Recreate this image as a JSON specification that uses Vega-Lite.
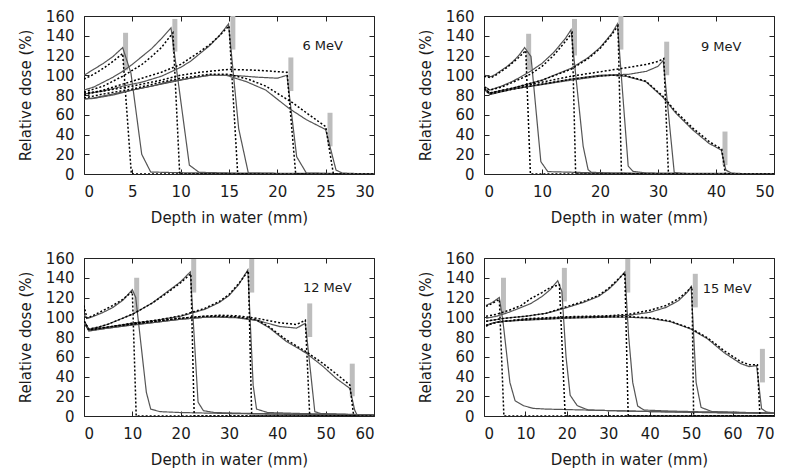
{
"$schema": "https://vega.github.io/schema/vega-lite/v6.json",
"padding": {"left": 17, "top": 8, "right": 5, "bottom": 3},
"config": {
  "font": "DejaVu Sans",
  "view": {"stroke": "#222", "strokeWidth": 1},
  "axis": {"domain": false, "grid": false, "tickSize": -5, "tickColor": "#222", "tickWidth": 1, "labelFontSize": 15, "titleFontSize": 15, "titleFontWeight": "normal", "labelColor": "#1a1a1a", "titleColor": "#1a1a1a", "labelFont": "DejaVu Sans", "titleFont": "DejaVu Sans"},
  "axisX": {"labelPadding": 15, "titlePadding": 11},
  "axisY": {"labelPadding": 15, "titlePadding": 12}
},
"datasets": {
"curves": [
{"p":1,"c":"A","t":"s","x":0,"y":100},{"p":1,"c":"A","t":"s","x":1,"y":106},{"p":1,"c":"A","t":"s","x":2,"y":112},{"p":1,"c":"A","t":"s","x":3,"y":119},{"p":1,"c":"A","t":"s","x":4,"y":128},{"p":1,"c":"A","t":"s","x":4.86,"y":102},{"p":1,"c":"A","t":"s","x":5.97,"y":20},{"p":1,"c":"A","t":"s","x":6.9,"y":2},{"p":1,"c":"A","t":"s","x":9,"y":1.5},{"p":1,"c":"A","t":"s","x":12,"y":1},{"p":1,"c":"A","t":"s","x":16,"y":0.5},{"p":1,"c":"A","t":"s","x":30,"y":0.3},
{"p":1,"c":"A","t":"d","x":0,"y":96},{"p":1,"c":"A","t":"d","x":1,"y":101},{"p":1,"c":"A","t":"d","x":2,"y":107},{"p":1,"c":"A","t":"d","x":3,"y":114},{"p":1,"c":"A","t":"d","x":4,"y":122},{"p":1,"c":"A","t":"d","x":4.9,"y":0},{"p":1,"c":"A","t":"d","x":30,"y":0},
{"p":1,"c":"B","t":"s","x":0,"y":85},{"p":1,"c":"B","t":"s","x":1,"y":88},{"p":1,"c":"B","t":"s","x":2,"y":93},{"p":1,"c":"B","t":"s","x":3,"y":98},{"p":1,"c":"B","t":"s","x":4,"y":104},{"p":1,"c":"B","t":"s","x":5,"y":111},{"p":1,"c":"B","t":"s","x":6,"y":119},{"p":1,"c":"B","t":"s","x":7,"y":127},{"p":1,"c":"B","t":"s","x":8,"y":137},{"p":1,"c":"B","t":"s","x":9,"y":148},{"p":1,"c":"B","t":"s","x":10.9,"y":9},{"p":1,"c":"B","t":"s","x":11.9,"y":1.7},{"p":1,"c":"B","t":"s","x":15,"y":1},{"p":1,"c":"B","t":"s","x":30,"y":0.3},
{"p":1,"c":"B","t":"d","x":0,"y":83},{"p":1,"c":"B","t":"d","x":1,"y":86},{"p":1,"c":"B","t":"d","x":2,"y":89},{"p":1,"c":"B","t":"d","x":3,"y":94},{"p":1,"c":"B","t":"d","x":4,"y":99},{"p":1,"c":"B","t":"d","x":5,"y":105},{"p":1,"c":"B","t":"d","x":6,"y":111},{"p":1,"c":"B","t":"d","x":7,"y":119},{"p":1,"c":"B","t":"d","x":8,"y":128},{"p":1,"c":"B","t":"d","x":9.2,"y":143},{"p":1,"c":"B","t":"d","x":9.9,"y":0},{"p":1,"c":"B","t":"d","x":30,"y":0},
{"p":1,"c":"C","t":"s","x":0,"y":81},{"p":1,"c":"C","t":"s","x":2,"y":84},{"p":1,"c":"C","t":"s","x":4,"y":89},{"p":1,"c":"C","t":"s","x":6,"y":93},{"p":1,"c":"C","t":"s","x":8,"y":99},{"p":1,"c":"C","t":"s","x":10,"y":108},{"p":1,"c":"C","t":"s","x":11,"y":114},{"p":1,"c":"C","t":"s","x":12,"y":122},{"p":1,"c":"C","t":"s","x":13,"y":130},{"p":1,"c":"C","t":"s","x":14,"y":140},{"p":1,"c":"C","t":"s","x":14.95,"y":152},{"p":1,"c":"C","t":"s","x":16,"y":46},{"p":1,"c":"C","t":"s","x":17,"y":1},{"p":1,"c":"C","t":"s","x":20,"y":0.5},{"p":1,"c":"C","t":"s","x":30,"y":0.3},
{"p":1,"c":"C","t":"d","x":0,"y":80},{"p":1,"c":"C","t":"d","x":2,"y":85},{"p":1,"c":"C","t":"d","x":4,"y":91},{"p":1,"c":"C","t":"d","x":6,"y":97},{"p":1,"c":"C","t":"d","x":8,"y":103},{"p":1,"c":"C","t":"d","x":10,"y":111},{"p":1,"c":"C","t":"d","x":12,"y":124},{"p":1,"c":"C","t":"d","x":13,"y":131},{"p":1,"c":"C","t":"d","x":14,"y":140},{"p":1,"c":"C","t":"d","x":15,"y":150},{"p":1,"c":"C","t":"d","x":15.9,"y":0},{"p":1,"c":"C","t":"d","x":30,"y":0},
{"p":1,"c":"D","t":"s","x":0,"y":76},{"p":1,"c":"D","t":"s","x":1,"y":77},{"p":1,"c":"D","t":"s","x":3,"y":81},{"p":1,"c":"D","t":"s","x":5,"y":85},{"p":1,"c":"D","t":"s","x":7,"y":89},{"p":1,"c":"D","t":"s","x":9,"y":93},{"p":1,"c":"D","t":"s","x":11,"y":97},{"p":1,"c":"D","t":"s","x":13,"y":100},{"p":1,"c":"D","t":"s","x":14.7,"y":100},{"p":1,"c":"D","t":"s","x":16,"y":99.5},{"p":1,"c":"D","t":"s","x":18,"y":98},{"p":1,"c":"D","t":"s","x":20,"y":97},{"p":1,"c":"D","t":"s","x":21,"y":100},{"p":1,"c":"D","t":"s","x":22,"y":17.5},{"p":1,"c":"D","t":"s","x":23,"y":1},{"p":1,"c":"D","t":"s","x":26,"y":0.5},{"p":1,"c":"D","t":"s","x":30,"y":0.3},
{"p":1,"c":"D","t":"d","x":0,"y":82},{"p":1,"c":"D","t":"d","x":2,"y":84},{"p":1,"c":"D","t":"d","x":5,"y":89},{"p":1,"c":"D","t":"d","x":8,"y":95},{"p":1,"c":"D","t":"d","x":10,"y":100},{"p":1,"c":"D","t":"d","x":12,"y":103},{"p":1,"c":"D","t":"d","x":15,"y":106},{"p":1,"c":"D","t":"d","x":18,"y":105},{"p":1,"c":"D","t":"d","x":21,"y":103},{"p":1,"c":"D","t":"d","x":21.9,"y":0},{"p":1,"c":"D","t":"d","x":30,"y":0},
{"p":1,"c":"E","t":"s","x":0,"y":76},{"p":1,"c":"E","t":"s","x":1,"y":76.5},{"p":1,"c":"E","t":"s","x":3,"y":80},{"p":1,"c":"E","t":"s","x":5,"y":85},{"p":1,"c":"E","t":"s","x":7,"y":89},{"p":1,"c":"E","t":"s","x":9,"y":94},{"p":1,"c":"E","t":"s","x":11,"y":97},{"p":1,"c":"E","t":"s","x":13,"y":100},{"p":1,"c":"E","t":"s","x":14.7,"y":100},{"p":1,"c":"E","t":"s","x":16.8,"y":93.5},{"p":1,"c":"E","t":"s","x":18.8,"y":85},{"p":1,"c":"E","t":"s","x":21.2,"y":66.5},{"p":1,"c":"E","t":"s","x":23,"y":55},{"p":1,"c":"E","t":"s","x":24,"y":50},{"p":1,"c":"E","t":"s","x":25,"y":45},{"p":1,"c":"E","t":"s","x":26.07,"y":4},{"p":1,"c":"E","t":"s","x":26.7,"y":1},{"p":1,"c":"E","t":"s","x":28,"y":0.5},{"p":1,"c":"E","t":"s","x":30,"y":0.3},
{"p":1,"c":"E","t":"d","x":0,"y":77},{"p":1,"c":"E","t":"d","x":2,"y":81},{"p":1,"c":"E","t":"d","x":5,"y":86},{"p":1,"c":"E","t":"d","x":8,"y":93},{"p":1,"c":"E","t":"d","x":10,"y":97},{"p":1,"c":"E","t":"d","x":13,"y":101},{"p":1,"c":"E","t":"d","x":15,"y":101},{"p":1,"c":"E","t":"d","x":17,"y":96},{"p":1,"c":"E","t":"d","x":18.8,"y":89},{"p":1,"c":"E","t":"d","x":21.6,"y":72},{"p":1,"c":"E","t":"d","x":23,"y":62},{"p":1,"c":"E","t":"d","x":25,"y":48},{"p":1,"c":"E","t":"d","x":25.8,"y":0},{"p":1,"c":"E","t":"d","x":30,"y":0},

{"p":2,"c":"A","t":"s","x":0,"y":100},{"p":2,"c":"A","t":"s","x":1.2,"y":98.5},{"p":2,"c":"A","t":"s","x":2,"y":101},{"p":2,"c":"A","t":"s","x":3,"y":105},{"p":2,"c":"A","t":"s","x":4,"y":109},{"p":2,"c":"A","t":"s","x":5,"y":114},{"p":2,"c":"A","t":"s","x":6,"y":120},{"p":2,"c":"A","t":"s","x":7,"y":128},{"p":2,"c":"A","t":"s","x":8.1,"y":119},{"p":2,"c":"A","t":"s","x":9.8,"y":12.5},{"p":2,"c":"A","t":"s","x":11,"y":2.4},{"p":2,"c":"A","t":"s","x":15,"y":1.8},{"p":2,"c":"A","t":"s","x":20,"y":1},{"p":2,"c":"A","t":"s","x":30,"y":0.5},{"p":2,"c":"A","t":"s","x":50,"y":0.3},
{"p":2,"c":"A","t":"d","x":0,"y":99},{"p":2,"c":"A","t":"d","x":1.2,"y":97.5},{"p":2,"c":"A","t":"d","x":2,"y":100},{"p":2,"c":"A","t":"d","x":3,"y":104},{"p":2,"c":"A","t":"d","x":4,"y":108},{"p":2,"c":"A","t":"d","x":5,"y":113},{"p":2,"c":"A","t":"d","x":6,"y":118},{"p":2,"c":"A","t":"d","x":7.2,"y":125},{"p":2,"c":"A","t":"d","x":8,"y":0},{"p":2,"c":"A","t":"d","x":50,"y":0},
{"p":2,"c":"B","t":"s","x":0,"y":89},{"p":2,"c":"B","t":"s","x":1,"y":85},{"p":2,"c":"B","t":"s","x":3,"y":89},{"p":2,"c":"B","t":"s","x":5,"y":94},{"p":2,"c":"B","t":"s","x":8,"y":104},{"p":2,"c":"B","t":"s","x":10,"y":112},{"p":2,"c":"B","t":"s","x":12,"y":123},{"p":2,"c":"B","t":"s","x":14,"y":137},{"p":2,"c":"B","t":"s","x":15,"y":146},{"p":2,"c":"B","t":"s","x":17.1,"y":28},{"p":2,"c":"B","t":"s","x":17.95,"y":4.4},{"p":2,"c":"B","t":"s","x":18.5,"y":1.7},{"p":2,"c":"B","t":"s","x":22,"y":1},{"p":2,"c":"B","t":"s","x":30,"y":0.5},{"p":2,"c":"B","t":"s","x":50,"y":0.3},
{"p":2,"c":"B","t":"d","x":0,"y":88},{"p":2,"c":"B","t":"d","x":1,"y":85},{"p":2,"c":"B","t":"d","x":3,"y":88},{"p":2,"c":"B","t":"d","x":5,"y":93},{"p":2,"c":"B","t":"d","x":8,"y":101},{"p":2,"c":"B","t":"d","x":10,"y":109},{"p":2,"c":"B","t":"d","x":12,"y":120},{"p":2,"c":"B","t":"d","x":14,"y":134},{"p":2,"c":"B","t":"d","x":15.2,"y":143},{"p":2,"c":"B","t":"d","x":15.8,"y":0},{"p":2,"c":"B","t":"d","x":50,"y":0},
{"p":2,"c":"C","t":"s","x":0,"y":87},{"p":2,"c":"C","t":"s","x":1,"y":82},{"p":2,"c":"C","t":"s","x":5,"y":87},{"p":2,"c":"C","t":"s","x":10,"y":95},{"p":2,"c":"C","t":"s","x":15,"y":107},{"p":2,"c":"C","t":"s","x":18,"y":118},{"p":2,"c":"C","t":"s","x":20,"y":128},{"p":2,"c":"C","t":"s","x":22,"y":142},{"p":2,"c":"C","t":"s","x":23,"y":152},{"p":2,"c":"C","t":"s","x":24.86,"y":8},{"p":2,"c":"C","t":"s","x":25.7,"y":2.7},{"p":2,"c":"C","t":"s","x":28,"y":1},{"p":2,"c":"C","t":"s","x":50,"y":0.3},
{"p":2,"c":"C","t":"d","x":0,"y":87},{"p":2,"c":"C","t":"d","x":1,"y":82},{"p":2,"c":"C","t":"d","x":5,"y":87},{"p":2,"c":"C","t":"d","x":10,"y":95},{"p":2,"c":"C","t":"d","x":15,"y":106},{"p":2,"c":"C","t":"d","x":18,"y":117},{"p":2,"c":"C","t":"d","x":20,"y":127},{"p":2,"c":"C","t":"d","x":22,"y":141},{"p":2,"c":"C","t":"d","x":23.1,"y":150},{"p":2,"c":"C","t":"d","x":23.7,"y":0},{"p":2,"c":"C","t":"d","x":50,"y":0},
{"p":2,"c":"D","t":"s","x":0,"y":86},{"p":2,"c":"D","t":"s","x":1,"y":81},{"p":2,"c":"D","t":"s","x":5,"y":86},{"p":2,"c":"D","t":"s","x":10,"y":91},{"p":2,"c":"D","t":"s","x":15,"y":96},{"p":2,"c":"D","t":"s","x":20,"y":100},{"p":2,"c":"D","t":"s","x":25,"y":101},{"p":2,"c":"D","t":"s","x":28,"y":104},{"p":2,"c":"D","t":"s","x":30,"y":109},{"p":2,"c":"D","t":"s","x":30.9,"y":115},{"p":2,"c":"D","t":"s","x":32.8,"y":1.5},{"p":2,"c":"D","t":"s","x":34,"y":0.5},{"p":2,"c":"D","t":"s","x":50,"y":0.3},
{"p":2,"c":"D","t":"d","x":0,"y":86},{"p":2,"c":"D","t":"d","x":1,"y":82},{"p":2,"c":"D","t":"d","x":5,"y":87},{"p":2,"c":"D","t":"d","x":10,"y":93},{"p":2,"c":"D","t":"d","x":15,"y":99},{"p":2,"c":"D","t":"d","x":20,"y":103.5},{"p":2,"c":"D","t":"d","x":25,"y":108},{"p":2,"c":"D","t":"d","x":28,"y":111},{"p":2,"c":"D","t":"d","x":30,"y":114},{"p":2,"c":"D","t":"d","x":31,"y":117},{"p":2,"c":"D","t":"d","x":31.8,"y":0},{"p":2,"c":"D","t":"d","x":50,"y":0},
{"p":2,"c":"E","t":"s","x":0,"y":86},{"p":2,"c":"E","t":"s","x":1,"y":80.5},{"p":2,"c":"E","t":"s","x":5,"y":86},{"p":2,"c":"E","t":"s","x":10,"y":90.5},{"p":2,"c":"E","t":"s","x":15,"y":95},{"p":2,"c":"E","t":"s","x":20,"y":99},{"p":2,"c":"E","t":"s","x":22,"y":100},{"p":2,"c":"E","t":"s","x":24.5,"y":99},{"p":2,"c":"E","t":"s","x":27.9,"y":93.5},{"p":2,"c":"E","t":"s","x":30.8,"y":78},{"p":2,"c":"E","t":"s","x":33.1,"y":61.5},{"p":2,"c":"E","t":"s","x":36,"y":44.6},{"p":2,"c":"E","t":"s","x":38.8,"y":31},{"p":2,"c":"E","t":"s","x":40.9,"y":24.3},{"p":2,"c":"E","t":"s","x":41.7,"y":4},{"p":2,"c":"E","t":"s","x":42.6,"y":1},{"p":2,"c":"E","t":"s","x":45,"y":0.3},{"p":2,"c":"E","t":"s","x":50,"y":0.2},
{"p":2,"c":"E","t":"d","x":0,"y":86},{"p":2,"c":"E","t":"d","x":1,"y":81},{"p":2,"c":"E","t":"d","x":5,"y":86},{"p":2,"c":"E","t":"d","x":10,"y":91},{"p":2,"c":"E","t":"d","x":15,"y":96},{"p":2,"c":"E","t":"d","x":20,"y":99.5},{"p":2,"c":"E","t":"d","x":22,"y":100},{"p":2,"c":"E","t":"d","x":24.5,"y":99.5},{"p":2,"c":"E","t":"d","x":27.9,"y":94},{"p":2,"c":"E","t":"d","x":30.8,"y":79},{"p":2,"c":"E","t":"d","x":33.1,"y":63},{"p":2,"c":"E","t":"d","x":36,"y":46.5},{"p":2,"c":"E","t":"d","x":38.8,"y":33},{"p":2,"c":"E","t":"d","x":41,"y":25},{"p":2,"c":"E","t":"d","x":41.6,"y":0},{"p":2,"c":"E","t":"d","x":50,"y":0},

{"p":3,"c":"A","t":"s","x":0,"y":102},{"p":3,"c":"A","t":"s","x":0.9,"y":99},{"p":3,"c":"A","t":"s","x":2,"y":101},{"p":3,"c":"A","t":"s","x":4,"y":105},{"p":3,"c":"A","t":"s","x":6,"y":110},{"p":3,"c":"A","t":"s","x":8,"y":117},{"p":3,"c":"A","t":"s","x":10,"y":128},{"p":3,"c":"A","t":"s","x":10.7,"y":120},{"p":3,"c":"A","t":"s","x":12.9,"y":24},{"p":3,"c":"A","t":"s","x":13.8,"y":7},{"p":3,"c":"A","t":"s","x":15.7,"y":4.4},{"p":3,"c":"A","t":"s","x":20,"y":3.5},{"p":3,"c":"A","t":"s","x":30,"y":2.5},{"p":3,"c":"A","t":"s","x":45,"y":1.5},{"p":3,"c":"A","t":"s","x":60,"y":1},
{"p":3,"c":"A","t":"d","x":0,"y":112},{"p":3,"c":"A","t":"d","x":0.6,"y":99},{"p":3,"c":"A","t":"d","x":2,"y":102},{"p":3,"c":"A","t":"d","x":4,"y":107},{"p":3,"c":"A","t":"d","x":6,"y":112},{"p":3,"c":"A","t":"d","x":8,"y":118},{"p":3,"c":"A","t":"d","x":10,"y":126},{"p":3,"c":"A","t":"d","x":10.8,"y":0},{"p":3,"c":"A","t":"d","x":60,"y":0},
{"p":3,"c":"B","t":"s","x":0,"y":97},{"p":3,"c":"B","t":"s","x":1,"y":88},{"p":3,"c":"B","t":"s","x":3,"y":90},{"p":3,"c":"B","t":"s","x":5,"y":93},{"p":3,"c":"B","t":"s","x":10,"y":103},{"p":3,"c":"B","t":"s","x":14,"y":114},{"p":3,"c":"B","t":"s","x":17,"y":125},{"p":3,"c":"B","t":"s","x":20,"y":136},{"p":3,"c":"B","t":"s","x":22,"y":146},{"p":3,"c":"B","t":"s","x":23.6,"y":14},{"p":3,"c":"B","t":"s","x":24.7,"y":5.4},{"p":3,"c":"B","t":"s","x":27,"y":3.5},{"p":3,"c":"B","t":"s","x":35,"y":2.5},{"p":3,"c":"B","t":"s","x":60,"y":1},
{"p":3,"c":"B","t":"d","x":0,"y":96},{"p":3,"c":"B","t":"d","x":1,"y":88},{"p":3,"c":"B","t":"d","x":3,"y":90},{"p":3,"c":"B","t":"d","x":5,"y":93},{"p":3,"c":"B","t":"d","x":10,"y":103},{"p":3,"c":"B","t":"d","x":14,"y":114},{"p":3,"c":"B","t":"d","x":17,"y":124},{"p":3,"c":"B","t":"d","x":20,"y":135},{"p":3,"c":"B","t":"d","x":22.1,"y":144},{"p":3,"c":"B","t":"d","x":22.8,"y":0},{"p":3,"c":"B","t":"d","x":60,"y":0},
{"p":3,"c":"C","t":"s","x":0,"y":96},{"p":3,"c":"C","t":"s","x":1,"y":87},{"p":3,"c":"C","t":"s","x":5,"y":90},{"p":3,"c":"C","t":"s","x":10,"y":94},{"p":3,"c":"C","t":"s","x":15,"y":97},{"p":3,"c":"C","t":"s","x":20,"y":101},{"p":3,"c":"C","t":"s","x":25,"y":108},{"p":3,"c":"C","t":"s","x":28,"y":115},{"p":3,"c":"C","t":"s","x":30,"y":122},{"p":3,"c":"C","t":"s","x":32,"y":133},{"p":3,"c":"C","t":"s","x":33.9,"y":148},{"p":3,"c":"C","t":"s","x":35,"y":31},{"p":3,"c":"C","t":"s","x":35.7,"y":7},{"p":3,"c":"C","t":"s","x":38,"y":3.5},{"p":3,"c":"C","t":"s","x":45,"y":2.5},{"p":3,"c":"C","t":"s","x":60,"y":1},
{"p":3,"c":"C","t":"d","x":0,"y":96},{"p":3,"c":"C","t":"d","x":1,"y":87},{"p":3,"c":"C","t":"d","x":5,"y":90},{"p":3,"c":"C","t":"d","x":10,"y":94},{"p":3,"c":"C","t":"d","x":15,"y":97},{"p":3,"c":"C","t":"d","x":20,"y":101.5},{"p":3,"c":"C","t":"d","x":25,"y":109},{"p":3,"c":"C","t":"d","x":28,"y":116},{"p":3,"c":"C","t":"d","x":30,"y":123},{"p":3,"c":"C","t":"d","x":32,"y":134},{"p":3,"c":"C","t":"d","x":34,"y":147},{"p":3,"c":"C","t":"d","x":34.7,"y":0},{"p":3,"c":"C","t":"d","x":60,"y":0},
{"p":3,"c":"D","t":"s","x":0,"y":95},{"p":3,"c":"D","t":"s","x":1,"y":86.5},{"p":3,"c":"D","t":"s","x":5,"y":89},{"p":3,"c":"D","t":"s","x":10,"y":92.5},{"p":3,"c":"D","t":"s","x":15,"y":95},{"p":3,"c":"D","t":"s","x":20,"y":98},{"p":3,"c":"D","t":"s","x":25,"y":100},{"p":3,"c":"D","t":"s","x":28,"y":100.5},{"p":3,"c":"D","t":"s","x":31.5,"y":100},{"p":3,"c":"D","t":"s","x":35.7,"y":97},{"p":3,"c":"D","t":"s","x":40.5,"y":90.6},{"p":3,"c":"D","t":"s","x":44,"y":89},{"p":3,"c":"D","t":"s","x":45.8,"y":94},{"p":3,"c":"D","t":"s","x":47.75,"y":4.4},{"p":3,"c":"D","t":"s","x":49,"y":2.5},{"p":3,"c":"D","t":"s","x":60,"y":1},
{"p":3,"c":"D","t":"d","x":0,"y":95},{"p":3,"c":"D","t":"d","x":1,"y":87},{"p":3,"c":"D","t":"d","x":5,"y":90},{"p":3,"c":"D","t":"d","x":10,"y":93},{"p":3,"c":"D","t":"d","x":15,"y":96},{"p":3,"c":"D","t":"d","x":20,"y":99},{"p":3,"c":"D","t":"d","x":25,"y":101},{"p":3,"c":"D","t":"d","x":28,"y":102},{"p":3,"c":"D","t":"d","x":31.5,"y":101.5},{"p":3,"c":"D","t":"d","x":35.7,"y":99},{"p":3,"c":"D","t":"d","x":40.5,"y":94.4},{"p":3,"c":"D","t":"d","x":44,"y":92.7},{"p":3,"c":"D","t":"d","x":45.8,"y":97},{"p":3,"c":"D","t":"d","x":46.7,"y":0},{"p":3,"c":"D","t":"d","x":60,"y":0},
{"p":3,"c":"E","t":"s","x":0,"y":95},{"p":3,"c":"E","t":"s","x":1,"y":86},{"p":3,"c":"E","t":"s","x":5,"y":89},{"p":3,"c":"E","t":"s","x":10,"y":92},{"p":3,"c":"E","t":"s","x":15,"y":95},{"p":3,"c":"E","t":"s","x":20,"y":98},{"p":3,"c":"E","t":"s","x":25,"y":100},{"p":3,"c":"E","t":"s","x":28,"y":100},{"p":3,"c":"E","t":"s","x":31.5,"y":99.5},{"p":3,"c":"E","t":"s","x":35.7,"y":96.8},{"p":3,"c":"E","t":"s","x":38.4,"y":89},{"p":3,"c":"E","t":"s","x":41.9,"y":75.4},{"p":3,"c":"E","t":"s","x":46,"y":63.6},{"p":3,"c":"E","t":"s","x":49.5,"y":50},{"p":3,"c":"E","t":"s","x":52.2,"y":38},{"p":3,"c":"E","t":"s","x":55,"y":28},{"p":3,"c":"E","t":"s","x":56,"y":6},{"p":3,"c":"E","t":"s","x":56.5,"y":1},{"p":3,"c":"E","t":"s","x":60,"y":0.5},
{"p":3,"c":"E","t":"d","x":0,"y":96},{"p":3,"c":"E","t":"d","x":1,"y":87},{"p":3,"c":"E","t":"d","x":5,"y":90},{"p":3,"c":"E","t":"d","x":10,"y":93},{"p":3,"c":"E","t":"d","x":15,"y":96},{"p":3,"c":"E","t":"d","x":20,"y":99},{"p":3,"c":"E","t":"d","x":25,"y":101},{"p":3,"c":"E","t":"d","x":28,"y":101},{"p":3,"c":"E","t":"d","x":31.5,"y":100.5},{"p":3,"c":"E","t":"d","x":35.7,"y":97.5},{"p":3,"c":"E","t":"d","x":38.4,"y":90},{"p":3,"c":"E","t":"d","x":41.9,"y":77},{"p":3,"c":"E","t":"d","x":46,"y":65},{"p":3,"c":"E","t":"d","x":49.5,"y":53},{"p":3,"c":"E","t":"d","x":52.2,"y":42.6},{"p":3,"c":"E","t":"d","x":55,"y":31.5},{"p":3,"c":"E","t":"d","x":55.8,"y":0},{"p":3,"c":"E","t":"d","x":60,"y":0},

{"p":4,"c":"A","t":"s","x":0.5,"y":112},{"p":4,"c":"A","t":"s","x":2,"y":115},{"p":4,"c":"A","t":"s","x":3.7,"y":120},{"p":4,"c":"A","t":"s","x":4.6,"y":95},{"p":4,"c":"A","t":"s","x":6.25,"y":34},{"p":4,"c":"A","t":"s","x":7.5,"y":15.5},{"p":4,"c":"A","t":"s","x":9.5,"y":10.5},{"p":4,"c":"A","t":"s","x":11.9,"y":7.7},{"p":4,"c":"A","t":"s","x":15,"y":7},{"p":4,"c":"A","t":"s","x":20,"y":6.5},{"p":4,"c":"A","t":"s","x":30,"y":5.5},{"p":4,"c":"A","t":"s","x":40,"y":4.5},{"p":4,"c":"A","t":"s","x":50,"y":3.7},{"p":4,"c":"A","t":"s","x":60,"y":3},{"p":4,"c":"A","t":"s","x":70,"y":2.7},
{"p":4,"c":"A","t":"d","x":0.5,"y":111},{"p":4,"c":"A","t":"d","x":2,"y":114},{"p":4,"c":"A","t":"d","x":3.7,"y":118},{"p":4,"c":"A","t":"d","x":4.8,"y":0},{"p":4,"c":"A","t":"d","x":70,"y":0},
{"p":4,"c":"B","t":"s","x":0.5,"y":99},{"p":4,"c":"B","t":"s","x":3,"y":101},{"p":4,"c":"B","t":"s","x":6,"y":105},{"p":4,"c":"B","t":"s","x":9,"y":110},{"p":4,"c":"B","t":"s","x":11.35,"y":114},{"p":4,"c":"B","t":"s","x":14,"y":121},{"p":4,"c":"B","t":"s","x":16,"y":128},{"p":4,"c":"B","t":"s","x":17.8,"y":137},{"p":4,"c":"B","t":"s","x":18.8,"y":126},{"p":4,"c":"B","t":"s","x":19.8,"y":60},{"p":4,"c":"B","t":"s","x":20.8,"y":21},{"p":4,"c":"B","t":"s","x":22.5,"y":10.5},{"p":4,"c":"B","t":"s","x":25.2,"y":6},{"p":4,"c":"B","t":"s","x":30,"y":5.5},{"p":4,"c":"B","t":"s","x":40,"y":4.5},{"p":4,"c":"B","t":"s","x":70,"y":2.7},
{"p":4,"c":"B","t":"d","x":0.5,"y":101},{"p":4,"c":"B","t":"d","x":3,"y":103},{"p":4,"c":"B","t":"d","x":6,"y":107},{"p":4,"c":"B","t":"d","x":9,"y":112},{"p":4,"c":"B","t":"d","x":11.35,"y":119},{"p":4,"c":"B","t":"d","x":14,"y":125},{"p":4,"c":"B","t":"d","x":16,"y":130},{"p":4,"c":"B","t":"d","x":18.2,"y":133},{"p":4,"c":"B","t":"d","x":19.6,"y":0},{"p":4,"c":"B","t":"d","x":70,"y":0},
{"p":4,"c":"C","t":"s","x":0.5,"y":96},{"p":4,"c":"C","t":"s","x":5,"y":99},{"p":4,"c":"C","t":"s","x":10,"y":101},{"p":4,"c":"C","t":"s","x":15,"y":104},{"p":4,"c":"C","t":"s","x":19.4,"y":109},{"p":4,"c":"C","t":"s","x":24,"y":115},{"p":4,"c":"C","t":"s","x":27.6,"y":121},{"p":4,"c":"C","t":"s","x":30,"y":128},{"p":4,"c":"C","t":"s","x":32,"y":136},{"p":4,"c":"C","t":"s","x":34,"y":146},{"p":4,"c":"C","t":"s","x":34.9,"y":81.5},{"p":4,"c":"C","t":"s","x":35.9,"y":34},{"p":4,"c":"C","t":"s","x":37.1,"y":10},{"p":4,"c":"C","t":"s","x":38.7,"y":6},{"p":4,"c":"C","t":"s","x":45,"y":5},{"p":4,"c":"C","t":"s","x":55,"y":4},{"p":4,"c":"C","t":"s","x":70,"y":3},
{"p":4,"c":"C","t":"d","x":0.5,"y":96},{"p":4,"c":"C","t":"d","x":5,"y":99},{"p":4,"c":"C","t":"d","x":10,"y":101},{"p":4,"c":"C","t":"d","x":15,"y":104},{"p":4,"c":"C","t":"d","x":19.4,"y":110},{"p":4,"c":"C","t":"d","x":24,"y":116},{"p":4,"c":"C","t":"d","x":27.6,"y":122},{"p":4,"c":"C","t":"d","x":30,"y":129},{"p":4,"c":"C","t":"d","x":32,"y":137},{"p":4,"c":"C","t":"d","x":34,"y":145},{"p":4,"c":"C","t":"d","x":34.8,"y":0},{"p":4,"c":"C","t":"d","x":70,"y":0},
{"p":4,"c":"D","t":"s","x":0.5,"y":92},{"p":4,"c":"D","t":"s","x":3,"y":95},{"p":4,"c":"D","t":"s","x":10,"y":98},{"p":4,"c":"D","t":"s","x":20,"y":100},{"p":4,"c":"D","t":"s","x":30,"y":101},{"p":4,"c":"D","t":"s","x":35,"y":102},{"p":4,"c":"D","t":"s","x":40,"y":105},{"p":4,"c":"D","t":"s","x":44,"y":110},{"p":4,"c":"D","t":"s","x":47,"y":117},{"p":4,"c":"D","t":"s","x":49,"y":125},{"p":4,"c":"D","t":"s","x":50,"y":131},{"p":4,"c":"D","t":"s","x":51.2,"y":34},{"p":4,"c":"D","t":"s","x":52.4,"y":8.7},{"p":4,"c":"D","t":"s","x":55,"y":4.5},{"p":4,"c":"D","t":"s","x":70,"y":2.8},
{"p":4,"c":"D","t":"d","x":0.5,"y":92},{"p":4,"c":"D","t":"d","x":3,"y":95},{"p":4,"c":"D","t":"d","x":10,"y":98.5},{"p":4,"c":"D","t":"d","x":20,"y":100.5},{"p":4,"c":"D","t":"d","x":30,"y":101.5},{"p":4,"c":"D","t":"d","x":35,"y":103},{"p":4,"c":"D","t":"d","x":40,"y":107},{"p":4,"c":"D","t":"d","x":44,"y":112},{"p":4,"c":"D","t":"d","x":47,"y":119},{"p":4,"c":"D","t":"d","x":49,"y":126},{"p":4,"c":"D","t":"d","x":50.2,"y":131},{"p":4,"c":"D","t":"d","x":50.6,"y":0},{"p":4,"c":"D","t":"d","x":70,"y":0},
{"p":4,"c":"E","t":"s","x":0.5,"y":91},{"p":4,"c":"E","t":"s","x":2,"y":94},{"p":4,"c":"E","t":"s","x":5,"y":96},{"p":4,"c":"E","t":"s","x":10,"y":97},{"p":4,"c":"E","t":"s","x":20,"y":99},{"p":4,"c":"E","t":"s","x":30,"y":100},{"p":4,"c":"E","t":"s","x":35,"y":100},{"p":4,"c":"E","t":"s","x":40,"y":99},{"p":4,"c":"E","t":"s","x":45,"y":95.5},{"p":4,"c":"E","t":"s","x":50,"y":88},{"p":4,"c":"E","t":"s","x":54,"y":78},{"p":4,"c":"E","t":"s","x":58,"y":64},{"p":4,"c":"E","t":"s","x":62,"y":53},{"p":4,"c":"E","t":"s","x":64,"y":50},{"p":4,"c":"E","t":"s","x":65.8,"y":51},{"p":4,"c":"E","t":"s","x":67,"y":7.4},{"p":4,"c":"E","t":"s","x":68.2,"y":4},{"p":4,"c":"E","t":"s","x":70,"y":3},
{"p":4,"c":"E","t":"d","x":0.5,"y":91},{"p":4,"c":"E","t":"d","x":2,"y":94},{"p":4,"c":"E","t":"d","x":5,"y":96},{"p":4,"c":"E","t":"d","x":10,"y":97.5},{"p":4,"c":"E","t":"d","x":20,"y":99.5},{"p":4,"c":"E","t":"d","x":30,"y":100.5},{"p":4,"c":"E","t":"d","x":35,"y":100.5},{"p":4,"c":"E","t":"d","x":40,"y":99.5},{"p":4,"c":"E","t":"d","x":45,"y":96},{"p":4,"c":"E","t":"d","x":50,"y":88.5},{"p":4,"c":"E","t":"d","x":54,"y":79},{"p":4,"c":"E","t":"d","x":58,"y":66},{"p":4,"c":"E","t":"d","x":62,"y":55},{"p":4,"c":"E","t":"d","x":64,"y":52},{"p":4,"c":"E","t":"d","x":66,"y":52},{"p":4,"c":"E","t":"d","x":66.6,"y":0},{"p":4,"c":"E","t":"d","x":70,"y":0}
],
"bars": [
{"p":1,"x":4.3,"y1":105,"y2":143},{"p":1,"x":9.4,"y1":124,"y2":157},{"p":1,"x":15.4,"y1":126,"y2":160},{"p":1,"x":21.4,"y1":84,"y2":118},{"p":1,"x":25.45,"y1":28,"y2":62},
{"p":2,"x":7.7,"y1":105,"y2":142},{"p":2,"x":15.6,"y1":120,"y2":157},{"p":2,"x":23.6,"y1":126,"y2":160},{"p":2,"x":31.5,"y1":100,"y2":134},{"p":2,"x":41.55,"y1":9,"y2":43},
{"p":3,"x":10.9,"y1":105,"y2":140},{"p":3,"x":22.7,"y1":125,"y2":159},{"p":3,"x":34.7,"y1":125,"y2":159},{"p":3,"x":46.7,"y1":80,"y2":114},{"p":3,"x":55.5,"y1":20,"y2":53},
{"p":4,"x":4.7,"y1":103,"y2":140},{"p":4,"x":19.4,"y1":116,"y2":150},{"p":4,"x":34.7,"y1":125,"y2":159},{"p":4,"x":51.0,"y1":110,"y2":144},{"p":4,"x":67.2,"y1":34,"y2":68}
],
"labels": [
{"p":1,"x":22.6,"y":130,"label":"6 MeV"},{"p":2,"x":37.4,"y":129,"label":"9 MeV"},{"p":3,"x":45.3,"y":130,"label":"12 MeV"},{"p":4,"x":52.8,"y":129,"label":"15 MeV"}
]
},
"columns": 2,
"bounds": "flush",
"spacing": {"row": 84, "column": 110},
"concat": [
{"width": 290, "height": 158, "resolve": {"axis": {"x": "independent", "y": "independent"}},
 "layer": [
  {"data": {"name": "bars"}, "transform": [{"filter": "datum.p == 1"}], "mark": {"type": "rule", "strokeWidth": 5, "color": "#bdbdbd"},
   "encoding": {"x": {"field": "x", "type": "quantitative", "scale": {"domain": [0, 30], "nice": false}, "axis": null}, "y": {"field": "y1", "type": "quantitative", "scale": {"domain": [0, 160], "nice": false}, "axis": null}, "y2": {"field": "y2"}}},
  {"data": {"name": "curves"}, "transform": [{"filter": "datum.p == 1"}], "mark": {"type": "line", "clip": true},
   "encoding": {"x": {"field": "x", "type": "quantitative", "scale": {"domain": [0, 30], "nice": false}, "axis": {"orient": "bottom", "values": [0,5,10,15,20,25,30], "title": "Depth in water (mm)"}},
    "y": {"field": "y", "type": "quantitative", "scale": {"domain": [0, 160], "nice": false}, "axis": {"orient": "left", "values": [0,20,40,60,80,100,120,140,160], "title": "Relative dose (%)"}},
    "detail": {"field": "c"},
    "color": {"field": "t", "type": "nominal", "scale": {"domain": ["s","d"], "range": ["#555555","#000000"]}, "legend": null},
    "strokeDash": {"field": "t", "type": "nominal", "scale": {"domain": ["s","d"], "range": [[1,0],[2,2]]}, "legend": null},
    "strokeWidth": {"field": "t", "type": "nominal", "scale": {"domain": ["s","d"], "range": [1.2,1.5]}, "legend": null}}},
  {"data": {"name": "labels"}, "transform": [{"filter": "datum.p == 1"}], "mark": {"type": "text", "align": "left", "baseline": "middle", "fontSize": 13, "color": "#1a1a1a"},
   "encoding": {"x": {"field": "x", "type": "quantitative", "scale": {"domain": [0, 30], "nice": false}, "axis": {"orient": "top", "labels": false, "title": null, "values": [0,5,10,15,20,25,30]}},
    "y": {"field": "y", "type": "quantitative", "scale": {"domain": [0, 160], "nice": false}, "axis": {"orient": "right", "labels": false, "title": null, "values": [0,20,40,60,80,100,120,140,160]}},
    "text": {"field": "label"}}}
 ]},
{"width": 290, "height": 158, "resolve": {"axis": {"x": "independent", "y": "independent"}},
 "layer": [
  {"data": {"name": "bars"}, "transform": [{"filter": "datum.p == 2"}], "mark": {"type": "rule", "strokeWidth": 5, "color": "#bdbdbd"},
   "encoding": {"x": {"field": "x", "type": "quantitative", "scale": {"domain": [0, 50], "nice": false}, "axis": null}, "y": {"field": "y1", "type": "quantitative", "scale": {"domain": [0, 160], "nice": false}, "axis": null}, "y2": {"field": "y2"}}},
  {"data": {"name": "curves"}, "transform": [{"filter": "datum.p == 2"}], "mark": {"type": "line", "clip": true},
   "encoding": {"x": {"field": "x", "type": "quantitative", "scale": {"domain": [0, 50], "nice": false}, "axis": {"orient": "bottom", "values": [0,10,20,30,40,50], "title": "Depth in water (mm)"}},
    "y": {"field": "y", "type": "quantitative", "scale": {"domain": [0, 160], "nice": false}, "axis": {"orient": "left", "values": [0,20,40,60,80,100,120,140,160], "title": "Relative dose (%)"}},
    "detail": {"field": "c"},
    "color": {"field": "t", "type": "nominal", "scale": {"domain": ["s","d"], "range": ["#555555","#000000"]}, "legend": null},
    "strokeDash": {"field": "t", "type": "nominal", "scale": {"domain": ["s","d"], "range": [[1,0],[2,2]]}, "legend": null},
    "strokeWidth": {"field": "t", "type": "nominal", "scale": {"domain": ["s","d"], "range": [1.2,1.5]}, "legend": null}}},
  {"data": {"name": "labels"}, "transform": [{"filter": "datum.p == 2"}], "mark": {"type": "text", "align": "left", "baseline": "middle", "fontSize": 13, "color": "#1a1a1a"},
   "encoding": {"x": {"field": "x", "type": "quantitative", "scale": {"domain": [0, 50], "nice": false}, "axis": {"orient": "top", "labels": false, "title": null, "values": [0,10,20,30,40,50]}},
    "y": {"field": "y", "type": "quantitative", "scale": {"domain": [0, 160], "nice": false}, "axis": {"orient": "right", "labels": false, "title": null, "values": [0,20,40,60,80,100,120,140,160]}},
    "text": {"field": "label"}}}
 ]},
{"width": 290, "height": 158, "resolve": {"axis": {"x": "independent", "y": "independent"}},
 "layer": [
  {"data": {"name": "bars"}, "transform": [{"filter": "datum.p == 3"}], "mark": {"type": "rule", "strokeWidth": 5, "color": "#bdbdbd"},
   "encoding": {"x": {"field": "x", "type": "quantitative", "scale": {"domain": [0, 60], "nice": false}, "axis": null}, "y": {"field": "y1", "type": "quantitative", "scale": {"domain": [0, 160], "nice": false}, "axis": null}, "y2": {"field": "y2"}}},
  {"data": {"name": "curves"}, "transform": [{"filter": "datum.p == 3"}], "mark": {"type": "line", "clip": true},
   "encoding": {"x": {"field": "x", "type": "quantitative", "scale": {"domain": [0, 60], "nice": false}, "axis": {"orient": "bottom", "values": [0,10,20,30,40,50,60], "title": "Depth in water (mm)"}},
    "y": {"field": "y", "type": "quantitative", "scale": {"domain": [0, 160], "nice": false}, "axis": {"orient": "left", "values": [0,20,40,60,80,100,120,140,160], "title": "Relative dose (%)"}},
    "detail": {"field": "c"},
    "color": {"field": "t", "type": "nominal", "scale": {"domain": ["s","d"], "range": ["#555555","#000000"]}, "legend": null},
    "strokeDash": {"field": "t", "type": "nominal", "scale": {"domain": ["s","d"], "range": [[1,0],[2,2]]}, "legend": null},
    "strokeWidth": {"field": "t", "type": "nominal", "scale": {"domain": ["s","d"], "range": [1.2,1.5]}, "legend": null}}},
  {"data": {"name": "labels"}, "transform": [{"filter": "datum.p == 3"}], "mark": {"type": "text", "align": "left", "baseline": "middle", "fontSize": 13, "color": "#1a1a1a"},
   "encoding": {"x": {"field": "x", "type": "quantitative", "scale": {"domain": [0, 60], "nice": false}, "axis": {"orient": "top", "labels": false, "title": null, "values": [0,10,20,30,40,50,60]}},
    "y": {"field": "y", "type": "quantitative", "scale": {"domain": [0, 160], "nice": false}, "axis": {"orient": "right", "labels": false, "title": null, "values": [0,20,40,60,80,100,120,140,160]}},
    "text": {"field": "label"}}}
 ]},
{"width": 290, "height": 158, "resolve": {"axis": {"x": "independent", "y": "independent"}},
 "layer": [
  {"data": {"name": "bars"}, "transform": [{"filter": "datum.p == 4"}], "mark": {"type": "rule", "strokeWidth": 5, "color": "#bdbdbd"},
   "encoding": {"x": {"field": "x", "type": "quantitative", "scale": {"domain": [0, 70], "nice": false}, "axis": null}, "y": {"field": "y1", "type": "quantitative", "scale": {"domain": [0, 160], "nice": false}, "axis": null}, "y2": {"field": "y2"}}},
  {"data": {"name": "curves"}, "transform": [{"filter": "datum.p == 4"}], "mark": {"type": "line", "clip": true},
   "encoding": {"x": {"field": "x", "type": "quantitative", "scale": {"domain": [0, 70], "nice": false}, "axis": {"orient": "bottom", "values": [0,10,20,30,40,50,60,70], "title": "Depth in water (mm)"}},
    "y": {"field": "y", "type": "quantitative", "scale": {"domain": [0, 160], "nice": false}, "axis": {"orient": "left", "values": [0,20,40,60,80,100,120,140,160], "title": "Relative dose (%)"}},
    "detail": {"field": "c"},
    "color": {"field": "t", "type": "nominal", "scale": {"domain": ["s","d"], "range": ["#555555","#000000"]}, "legend": null},
    "strokeDash": {"field": "t", "type": "nominal", "scale": {"domain": ["s","d"], "range": [[1,0],[2,2]]}, "legend": null},
    "strokeWidth": {"field": "t", "type": "nominal", "scale": {"domain": ["s","d"], "range": [1.2,1.5]}, "legend": null}}},
  {"data": {"name": "labels"}, "transform": [{"filter": "datum.p == 4"}], "mark": {"type": "text", "align": "left", "baseline": "middle", "fontSize": 13, "color": "#1a1a1a"},
   "encoding": {"x": {"field": "x", "type": "quantitative", "scale": {"domain": [0, 70], "nice": false}, "axis": {"orient": "top", "labels": false, "title": null, "values": [0,10,20,30,40,50,60,70]}},
    "y": {"field": "y", "type": "quantitative", "scale": {"domain": [0, 160], "nice": false}, "axis": {"orient": "right", "labels": false, "title": null, "values": [0,20,40,60,80,100,120,140,160]}},
    "text": {"field": "label"}}}
 ]}
]
}
